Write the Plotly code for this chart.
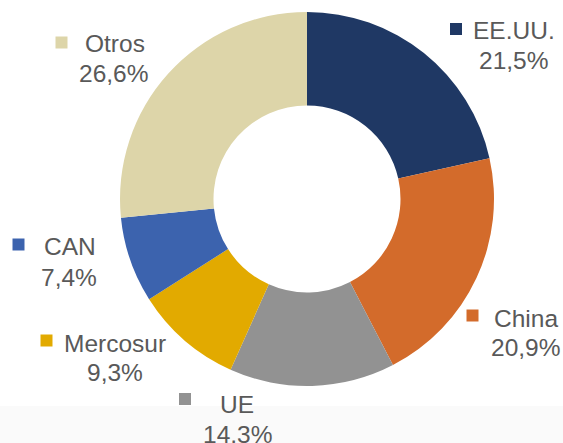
import plotly.graph_objects as go

# Data
categories = ["EE.UU.", "China", "UE", "Mercosur", "CAN", "Otros"]
shares = [21.5, 20.9, 14.3, 9.3, 7.4, 26.6]
value_labels = ["21,5%", "20,9%", "14,3%", "9,3%", "7,4%", "26,6%"]
colors = ["#1F3864", "#D36B2B", "#929292", "#E2AA00", "#3C63AE", "#DDD5A9"]

W, H = 563, 443

def px(x):
    return x / W

def py(y):
    return 1 - y / H

# Label layout (pixels): marker centre, name centre, value centre
label_layout = {
    "EE.UU.": dict(marker=(456, 29), name=(514, 30), value=(513, 60)),
    "China": dict(marker=(472.5, 315.5), name=(526, 317.5), value=(525.5, 346)),
    "UE": dict(marker=(185, 399), name=(237, 403), value=(237.5, 433)),
    "Mercosur": dict(marker=(46.5, 340.5), name=(114.5, 342.5), value=(115, 371)),
    "CAN": dict(marker=(18.5, 244.5), name=(70, 245.5), value=(69, 276)),
    "Otros": dict(marker=(61.5, 42.5), name=(114.5, 43), value=(113, 72)),
}

cx, cy, r = 307, 199, 187

fig = go.Figure(
    go.Pie(
        labels=categories,
        values=shares,
        marker=dict(colors=colors, line=dict(width=0)),
        hole=0.5,
        sort=False,
        direction="clockwise",
        rotation=0,
        textinfo="none",
        hoverinfo="label+percent",
        showlegend=False,
        domain=dict(x=[px(cx - r), px(cx + r)], y=[py(cy + r), py(cy - r)]),
    )
)

text_color = "#595959"
font_family = "Liberation Sans, Arial, sans-serif"
fsize = 24.5
annotations = []
shapes = [
    dict(type="rect", xref="paper", yref="paper", x0=0, x1=1, y0=0, y1=py(406),
         fillcolor="#FAFAFA", line=dict(width=0), layer="below")
]
msize = 12
for cat, val, col in zip(categories, value_labels, colors):
    lay = label_layout[cat]
    mx, my = lay["marker"]
    shapes.append(dict(type="rect", xref="paper", yref="paper",
                       x0=px(mx - msize / 2), x1=px(mx + msize / 2),
                       y0=py(my + msize / 2), y1=py(my - msize / 2),
                       fillcolor=col, line=dict(width=0)))
    for txt, (tx, ty) in ((cat, lay["name"]), (val, lay["value"])):
        annotations.append(dict(
            text=txt, x=px(tx), y=py(ty + 1), xref="paper", yref="paper",
            xanchor="center", yanchor="middle", showarrow=False,
            font=dict(size=fsize, color=text_color, family=font_family),
        ))

fig.update_layout(
    width=W, height=H,
    margin=dict(l=0, r=0, t=0, b=0),
    paper_bgcolor="white",
    plot_bgcolor="white",
    annotations=annotations,
    shapes=shapes,
)

fig.write_html(
    "out.html",
    config={"displayModeBar": False},
    post_script="document.body.style.margin='0';document.body.style.overflow='hidden';",
)
